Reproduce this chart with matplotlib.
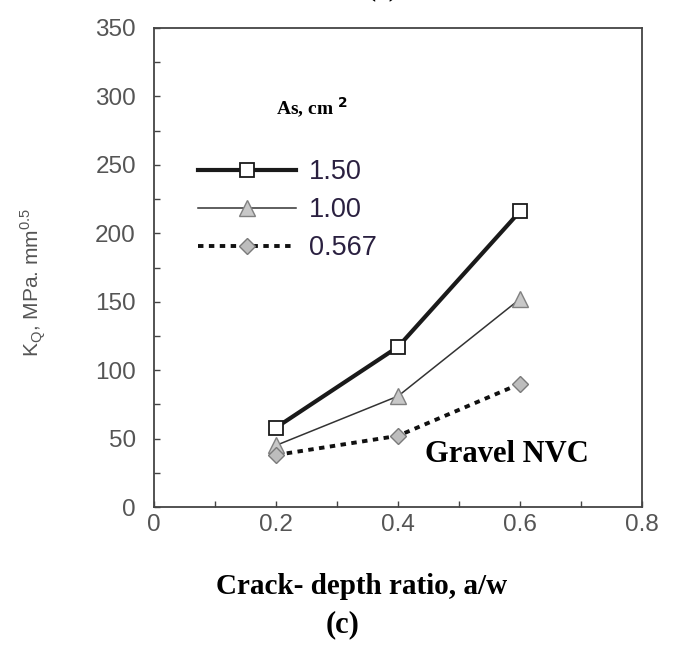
import numpy as np
import matplotlib
matplotlib.use("Agg")
import matplotlib.pyplot as plt
from matplotlib.ticker import MultipleLocator

# data
ratio = [0.2, 0.4, 0.6]
k_150 = [58, 117, 216]
k_100 = [45, 81, 152]
k_0567 = [38, 52, 90]
labels = ["1.50", "1.00", "0.567"]

fig = plt.figure(figsize=(6.77, 6.46), dpi=100)
ax = fig.add_axes([154 / 677, 1 - 507 / 646, (642 - 154) / 677, (507 - 28) / 646])

ax.plot(ratio, k_150, color="#1a1a1a", lw=3, marker="s", ms=10,
        mfc="white", mec="#1a1a1a", mew=1.3, label=labels[0])
ax.plot(ratio, k_100, color="#333333", lw=1.1, marker="^", ms=11,
        mfc="#c8c8c8", mec="#808080", mew=1.0, label=labels[1])
ax.plot(ratio, k_0567, color="#111111", lw=2.8, dashes=(1.4, 1.4), marker="D", ms=8.5,
        mfc="#bdbdbd", mec="#7a7a7a", mew=1.0, label=labels[2])

ax.set_xlim(0, 0.8)
ax.set_ylim(0, 350)
ax.xaxis.set_major_locator(MultipleLocator(0.2))
ax.xaxis.set_minor_locator(MultipleLocator(0.1))
ax.yaxis.set_major_locator(MultipleLocator(50))
ax.yaxis.set_minor_locator(MultipleLocator(25))
ax.xaxis.set_major_formatter(plt.FuncFormatter(lambda v, p: "0" if v == 0 else f"{v:.1f}"))

for s in ["top", "right", "left", "bottom"]:
    ax.spines[s].set_color("#444444")
    ax.spines[s].set_linewidth(1.3)

ax.tick_params(which="both", direction="in", length=4, width=1, color="#444444",
               top=False, right=False)
ax.tick_params(axis="x", which="major", pad=5)
ax.tick_params(axis="y", which="major", pad=13)
for t in ax.get_xticklabels() + ax.get_yticklabels():
    t.set_fontfamily("Liberation Sans")
    t.set_fontsize(17.5)
    t.set_color("#555555")

ax.set_ylabel(r"K$_\mathregular{Q}$, MPa. mm$^\mathregular{0.5}$", fontsize=15,
              family="Liberation Sans", color="#555555")
ax.yaxis.set_label_coords((48 - 154) / 488, 0.468)

# legend
leg = ax.legend(loc="upper left", bbox_to_anchor=(198 / 677, 1 - 159 / 646),
                bbox_transform=fig.transFigure, frameon=False, borderpad=0,
                borderaxespad=0, handlelength=3.6, handletextpad=0.5,
                labelspacing=0.45, numpoints=1,
                prop={"family": "Liberation Sans", "size": 19.5})
for t in leg.get_texts():
    t.set_color("#2a2040")

fig.text(312 / 677, 1 - 108 / 646, r"As, cm $^{\mathbf{2}}$", ha="center", va="center",
         family="Liberation Serif", weight="bold", fontsize=14)

ax.text(0.444, 38, "Gravel NVC", ha="left", va="center", family="Liberation Serif",
        weight="bold", fontsize=22)

fig.text(362 / 677, 1 - 587 / 646, "Crack- depth ratio, a/w", ha="center", va="center",
         family="Liberation Serif", weight="bold", fontsize=21)
fig.text(343 / 677, 1 - 625 / 646, "(c)", ha="center", va="center",
         family="Liberation Serif", weight="bold", fontsize=22)
fig.text(383 / 677, 1 + 13 / 646, "(c)", ha="center", va="center",
         family="Liberation Serif", weight="bold", fontsize=22)

fig.savefig("out.png", dpi=100)
